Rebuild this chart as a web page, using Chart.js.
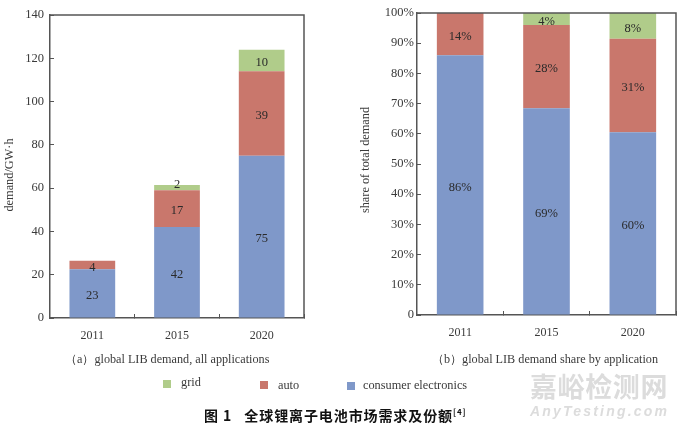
<!DOCTYPE html>
<html>
<head>
<meta charset="utf-8">
<script src="https://cdn.jsdelivr.net/npm/chart.js@4"></script>
<style>
  html, body {margin: 0; padding: 0; background: #fff;}
  #page {position: relative; width: 680px; height: 428px; overflow: hidden; font-family: "Liberation Serif", serif; color: #3a3a3a;}
  canvas {position: absolute; top: 0;}
  .legend {position: absolute; font-size: 12.3px; line-height: 14px; white-space: nowrap;}
  .swatch {position: absolute; width: 8px; height: 8px;}
  .panelNote {position: absolute; font-size: 12.2px; line-height: 14px; white-space: nowrap;}
  #caption {position: absolute; left: 204px; top: 405px; font: bold 14px "Noto Sans CJK SC", sans-serif; color: #111; white-space: pre; letter-spacing: 0.9px;}
  #caption sup {font-size: 8px; line-height: 0;}
  #markCn {position: absolute; left: 530px; top: 366px; font: bold 27px "Noto Sans CJK SC", sans-serif; color: #dcdcdc; letter-spacing: 0.6px;}
  #markEn {position: absolute; left: 530px; top: 403px; font: italic bold 14px "Liberation Sans", sans-serif; color: #dcdcdc; letter-spacing: 2.2px;}
</style>
</head>
<body>
<div id="page">
  <canvas id="demandChart" width="340" height="380" style="left:0;width:340px;height:380px"></canvas>
  <canvas id="shareChart" width="340" height="380" style="left:340px;width:340px;height:380px"></canvas>
  <div class="panelNote" style="left:65px;top:352px">（a）global LIB demand, all applications</div>
  <div class="panelNote" style="left:432px;top:352px">（b）global LIB demand share by application</div>
  <div id="legendBox"></div>
  <div id="caption">图 1   全球锂离子电池市场需求及份额<sup>[4]</sup></div>
  <div id="markCn">嘉峪检测网</div>
  <div id="markEn">AnyTesting.com</div>
</div>
<script>
const years = ['2011', '2015', '2020'];

// left panel, GW.h
const demandConsumer = [22.5, 42, 75];
const demandAuto = [4, 17, 39];
const demandGrid = [0, 2.5, 10];
const demandConsumerLabels = ['23', '42', '75'];
const demandAutoLabels = ['4', '17', '39'];
const demandGridLabels = ['', '2', '10'];
const demandTicks = [0, 20, 40, 60, 80, 100, 120, 140];

// right panel, percent
const shareConsumer = [86, 68.5, 60.5];
const shareAuto = [14, 27.5, 31];
const shareGrid = [0, 4, 8.5];
const shareConsumerLabels = ['86%', '69%', '60%'];
const shareAutoLabels = ['14%', '28%', '31%'];
const shareGridLabels = ['', '4%', '8%'];
const shareTicks = [0, 10, 20, 30, 40, 50, 60, 70, 80, 90, 100];

const seriesNames = ['grid', 'auto', 'consumer electronics'];

//Style Guidelines
const green = '#b0cc8a';
const red = '#c9776c';
const blue = '#7f98c9';
const frame = '#555555';
const textColor = '#3a3a3a';
const serif = 'Liberation Serif';

//Writes the value text in the middle of each bar segment
const segmentLabels = {
    id: 'segmentLabels',
    afterDatasetsDraw(chart) {
        const {ctx} = chart;
        ctx.save();
        ctx.font = '12.5px "' + serif + '"';
        ctx.fillStyle = '#2a2a2a';
        ctx.textAlign = 'center';
        ctx.textBaseline = 'middle';
        chart.data.datasets.forEach(function (ds, i) {
            chart.getDatasetMeta(i).data.forEach(function (bar, j) {
                const text = ds.valueLabels[j];
                if (text) {
                    //very thin segments push their label up over the top edge
                    const nudge = Math.abs(bar.base - bar.y) < 7 ? -3 : 2.5;
                    ctx.fillText(text, bar.x, (bar.y + bar.base) / 2 + nudge);
                }
            });
        });
        ctx.restore();
    }
};

//Top and right edges of the frame, and the rotated y axis title
const frameEdges = {
    id: 'frameEdges',
    afterDraw(chart, args, options) {
        const {ctx, chartArea: {left, top, right, bottom}} = chart;
        ctx.save();
        ctx.strokeStyle = frame;
        ctx.lineWidth = 1.5;
        ctx.beginPath();
        ctx.moveTo(left, top);
        ctx.lineTo(right, top);
        ctx.lineTo(right, bottom);
        ctx.stroke();

        ctx.translate(options.titleX, options.titleY);
        ctx.rotate(-Math.PI / 2);
        ctx.font = '12.3px "' + serif + '"';
        ctx.fillStyle = textColor;
        ctx.textAlign = 'center';
        ctx.textBaseline = 'middle';
        ctx.fillText(options.text, 0, 0);
        ctx.restore();
    }
};

const makeChart = function (id, cfg) {
    return new Chart(document.getElementById(id), {
        type: 'bar',
        plugins: [segmentLabels, frameEdges],
        data: {
            labels: years,
            datasets: [
                {label: seriesNames[2], data: cfg.consumer, valueLabels: cfg.consumerLabels, backgroundColor: blue},
                {label: seriesNames[1], data: cfg.auto, valueLabels: cfg.autoLabels, backgroundColor: red},
                {label: seriesNames[0], data: cfg.grid, valueLabels: cfg.gridLabels, backgroundColor: green},
            ],
        },
        options: {
            responsive: false,
            animation: false,
            devicePixelRatio: 1,
            layout: {padding: cfg.padding},
            datasets: {bar: {categoryPercentage: 1, barPercentage: 0.54}},
            plugins: {
                legend: {display: false},
                title: {display: false},
                tooltip: {enabled: false},
                frameEdges: {text: cfg.yTitle, titleX: cfg.titleX, titleY: cfg.titleY},
            },
            scales: {
                x: {
                    stacked: true,
                    border: {color: frame, width: 1.5},
                    grid: {offset: true, drawOnChartArea: false, color: frame, tickLength: -4},
                    ticks: {color: textColor, font: {family: serif, size: 12}, padding: 15, maxRotation: 0},
                    afterFit(scale) { scale.height = 62; },
                },
                y: {
                    stacked: true,
                    min: 0,
                    max: cfg.max,
                    border: {color: frame, width: 1.5},
                    grid: {drawOnChartArea: false, color: frame, tickLength: -4},
                    afterBuildTicks(scale) { scale.ticks = cfg.ticks.map(function (v) { return {value: v}; }); },
                    ticks: {
                        color: textColor,
                        padding: cfg.tickPad,
                        font: {family: serif, size: 12.5},
                        callback: cfg.tickText,
                    },
                    afterFit(scale) {
                        scale.width = cfg.axisWidth;
                        //tick padding would otherwise push the plot top down
                        scale.paddingTop = 0;
                        scale.paddingBottom = 0;
                    },
                },
            },
        },
    });
};

makeChart('demandChart', {
    consumer: demandConsumer, auto: demandAuto, grid: demandGrid,
    consumerLabels: demandConsumerLabels, autoLabels: demandAutoLabels, gridLabels: demandGridLabels,
    ticks: demandTicks, max: 140, axisWidth: 50, tickPad: 10,
    tickText: function (v) { return v; },
    yTitle: 'demand/GW·h', titleX: 10, titleY: 175,
    padding: {left: 0, right: 36, top: 15, bottom: 0},
});

makeChart('shareChart', {
    consumer: shareConsumer, auto: shareAuto, grid: shareGrid,
    consumerLabels: shareConsumerLabels, autoLabels: shareAutoLabels, gridLabels: shareGridLabels,
    ticks: shareTicks, max: 100, axisWidth: 77, tickPad: 7,
    tickText: function (v) { return v === 0 ? '0' : v + '%'; },
    yTitle: 'share of total demand', titleX: 26, titleY: 160,
    padding: {left: 0, right: 4, top: 13, bottom: 3},
});

//Legend row under both panels
const legendItems = [
    {name: seriesNames[0], color: green, box: 163, boxY: 380, text: 181, y: 375},
    {name: seriesNames[1], color: red, box: 260, boxY: 381, text: 278, y: 378},
    {name: seriesNames[2], color: blue, box: 347, boxY: 382, text: 363, y: 378},
];
const legendBox = document.getElementById('legendBox');
legendItems.forEach(function (item) {
    const swatch = document.createElement('div');
    swatch.className = 'swatch';
    swatch.style.cssText = 'left:' + item.box + 'px;top:' + item.boxY + 'px;background:' + item.color;
    const label = document.createElement('div');
    label.className = 'legend';
    label.style.cssText = 'left:' + item.text + 'px;top:' + item.y + 'px';
    label.textContent = item.name;
    legendBox.append(swatch, label);
});
</script>
</body>
</html>
